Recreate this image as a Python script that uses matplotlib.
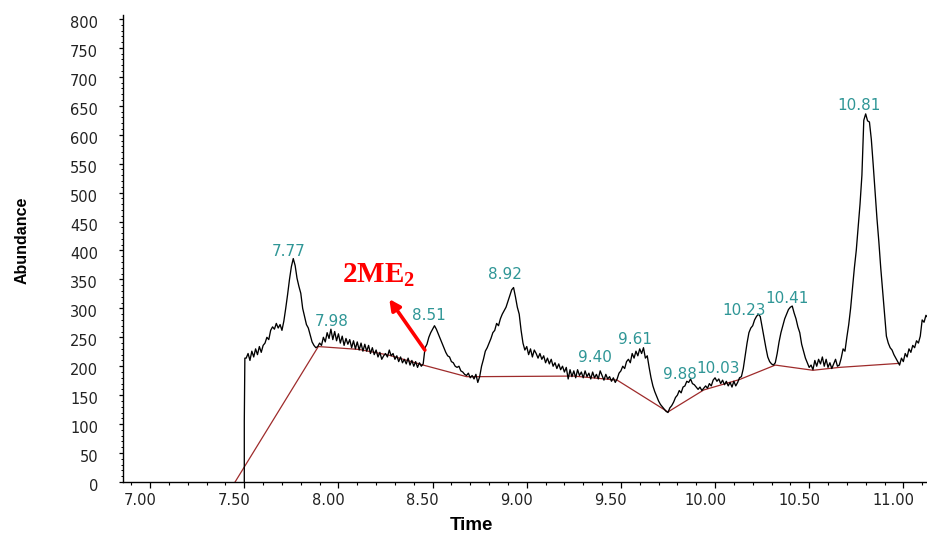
import numpy as np
import matplotlib
matplotlib.use("Agg")
import matplotlib.pyplot as plt
import matplotlib.transforms as mtransforms
from matplotlib.ticker import MultipleLocator, FormatStrFormatter

# ---- data ----
# vertical jump where acquisition starts
lead_time = [7.50, 7.50, 7.503]
lead_abund = [0, 105, 214]

# abundance every 0.01 min from 7.51 to 11.13
abund = [
    214, 222, 210, 226, 216, 230, 220, 234, 224, 236,   # 7.51-7.60
    240, 250, 246, 262, 268, 264, 274, 266, 272, 262,   # 7.61-7.70
    278, 300, 324, 350, 372, 386, 374, 352, 338, 326,   # 7.71-7.80
    300, 286, 272, 266, 254, 242, 236, 232, 234, 240,   # 7.81-7.90
    236, 250, 242, 258, 248, 264, 246, 260, 244, 256,   # 7.91-8.00
    240, 252, 236, 248, 238, 246, 232, 244, 230, 242,   # 8.01-8.10
    228, 240, 226, 238, 226, 236, 222, 232, 220, 228,   # 8.11-8.20
    216, 224, 212, 218, 222, 216, 228, 218, 222, 212,   # 8.21-8.30
    218, 208, 216, 206, 212, 204, 214, 202, 210, 200,   # 8.31-8.40
    208, 198, 206, 200, 204, 232, 238, 250, 258, 264,   # 8.41-8.50
    270, 264, 256, 248, 240, 232, 224, 218, 216, 208,   # 8.51-8.60
    206, 200, 198, 200, 192, 190, 186, 184, 188, 180,   # 8.61-8.70
    184, 178, 186, 172, 182, 200, 212, 226, 232, 240,   # 8.71-8.80
    248, 258, 262, 274, 270, 282, 290, 296, 302, 312,   # 8.81-8.90
    322, 332, 336, 320, 302, 290, 262, 240, 228, 234,   # 8.91-9.00
    220, 230, 216, 228, 222, 214, 222, 212, 218, 206,   # 9.01-9.10
    214, 204, 212, 200, 206, 196, 204, 194, 200, 190,   # 9.11-9.20
    198, 178, 194, 182, 192, 180, 194, 184, 190, 180,   # 9.21-9.30
    192, 182, 188, 178, 190, 180, 186, 178, 192, 184,   # 9.31-9.40
    176, 186, 178, 182, 174, 180, 172, 178, 188, 192,   # 9.41-9.50
    200, 196, 208, 212, 206, 222, 214, 226, 218, 230,   # 9.51-9.60
    222, 232, 214, 218, 198, 180, 166, 156, 148, 140,   # 9.61-9.70
    134, 130, 126, 122, 120, 128, 132, 138, 146, 150,   # 9.71-9.80
    158, 154, 164, 166, 174, 172, 178, 170, 168, 164,   # 9.81-9.90
    160, 164, 158, 162, 166, 162, 170, 166, 176, 180,   # 9.91-10.00
    174, 178, 170, 176, 168, 174, 166, 172, 164, 174,   # 10.01-10.10
    166, 172, 180, 182, 196, 218, 240, 258, 266, 270,   # 10.11-10.20
    280, 286, 290, 286, 268, 250, 232, 216, 208, 204,   # 10.21-10.30
    202, 206, 222, 242, 258, 270, 282, 290, 298, 302,   # 10.31-10.40
    304, 292, 282, 268, 258, 238, 226, 214, 206, 198,   # 10.41-10.50
    202, 194, 210, 200, 212, 204, 216, 200, 212, 198,   # 10.51-10.60
    206, 196, 204, 212, 200, 202, 214, 230, 226, 250,   # 10.61-10.70
    272, 300, 335, 370, 400, 440, 480, 530, 625, 636,   # 10.71-10.80
    624, 622, 592, 548, 501, 455, 415, 370, 330, 290,   # 10.81-10.90
    252, 240, 232, 228, 220, 214, 208, 202, 214, 208,   # 10.91-11.00
    222, 216, 230, 224, 236, 232, 244, 240, 252, 280,   # 11.01-11.10
    276, 288, 284,                                      # 11.11-11.13
]
times = np.round(7.51 + 0.01 * np.arange(len(abund)), 2)

# integration baseline drawn by the software
base_time = [7.451, 7.893, 8.11, 8.27, 8.45, 8.68, 8.75, 9.25, 9.48, 9.75,
             9.94, 10.13, 10.32, 10.52, 10.66, 10.98]
base_abund = [0, 234, 229, 219, 202, 182, 182, 183, 176, 121,
              159, 177, 202, 193, 198, 205]

# peak retention times and the height where each label sits
peak_rt = [7.77, 7.98, 8.51, 8.92, 9.40, 9.61, 9.88, 10.03, 10.23, 10.41, 10.81]
peak_label_y = [386, 264, 274, 346, 202, 234, 173, 183, 284, 304, 638]
# horizontal nudge of each label (pixels), as the software placed them
label_dx = [-7, -3, -6, -7, -7, -7, -13, -3, -14, -5, -9]

plt.rcParams['mathtext.fontset'] = 'custom'
plt.rcParams['mathtext.bf'] = 'Liberation Serif:bold'
plt.rcParams['mathtext.rm'] = 'Liberation Serif:bold'

fig = plt.figure(figsize=(9.28, 5.35), dpi=100)
ax = fig.add_axes([0.1325, 0.0991, 0.8675, 0.873])

t_all = np.concatenate([lead_time, times])
a_all = np.concatenate([lead_abund, abund])
ax.plot(t_all, a_all, color='black', lw=0.95, zorder=3)
ax.plot(base_time, base_abund, color='#9e2b2b', lw=0.9, zorder=2)

for rt, ly, ddx in zip(peak_rt, peak_label_y, label_dx):
    ax.annotate(f"{rt:.2f}", xy=(rt, ly), xytext=(ddx * 0.72, 0), textcoords='offset points',
                ha='center', va='bottom', fontsize=11, color='#2f9696',
                family='DejaVu Sans', zorder=4)

# 2ME2 marker with arrow
ax.text(8.017, 346, r'$\mathbf{2ME}_{\mathbf{2}}$', color='red', fontsize=21,
        ha='left', va='baseline', zorder=5)
ax.annotate('', xy=(8.27, 316), xytext=(8.459, 228),
            arrowprops=dict(arrowstyle='-|>', color='red', lw=2.6,
                            mutation_scale=16, shrinkA=0, shrinkB=0), zorder=5)

ax.set_xlim(6.8556, 11.131)
ax.set_ylim(0, 807)

for s in ['top', 'right']:
    ax.spines[s].set_visible(False)
for s in ['left', 'bottom']:
    ax.spines[s].set_linewidth(1.0)

ax.xaxis.set_major_locator(MultipleLocator(0.5))
ax.xaxis.set_minor_locator(MultipleLocator(0.1))
ax.xaxis.set_major_formatter(FormatStrFormatter('%.2f'))
ax.yaxis.set_major_locator(MultipleLocator(50))
ax.yaxis.set_minor_locator(MultipleLocator(10))
ax.tick_params(axis='x', which='major', direction='out', length=4, width=0.9, pad=4,
               labelsize=10.5, labelcolor='#222222')
ax.tick_params(axis='x', which='minor', direction='out', length=2.5, width=0.8)
ax.tick_params(axis='y', which='major', direction='out', length=3, width=0.9, pad=15,
               labelsize=10.5, labelcolor='#222222')
ax.tick_params(axis='y', which='minor', direction='out', length=1.8, width=0.7)

# shift tick labels like the instrument software does
dx = mtransforms.ScaledTranslation(-10 / 100, 0, fig.dpi_scale_trans)
for lab in ax.get_xticklabels():
    lab.set_transform(lab.get_transform() + dx)
    lab.set_family('DejaVu Sans')
dy = mtransforms.ScaledTranslation(0, -3 / 100, fig.dpi_scale_trans)
for lab in ax.get_yticklabels():
    lab.set_transform(lab.get_transform() + dy)
    lab.set_family('DejaVu Sans')

fig.text(471 / 928, 1 - 526 / 535, 'Time', ha='center', va='center',
         fontsize=13.5, fontweight='bold', family='Liberation Sans')
fig.text(22 / 928, 1 - 240 / 535, 'Abundance', ha='center', va='center', rotation=90,
         fontsize=11.5, fontweight='bold', family='Liberation Sans')

fig.savefig('out.png', dpi=100, facecolor='white')
